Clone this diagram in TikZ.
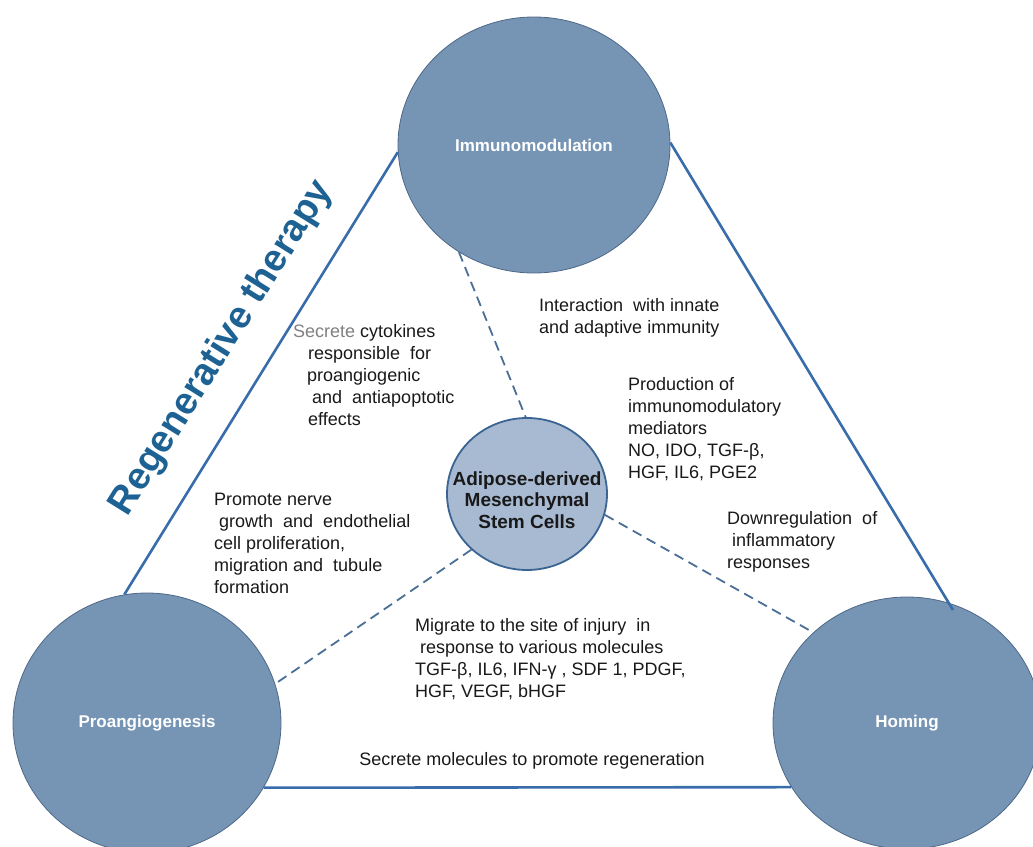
\documentclass[tikz,border=0pt]{standalone}
\usepackage{fontspec}
\setmainfont{Liberation Sans}
\usetikzlibrary{shapes.geometric}
\definecolor{discfill}{RGB}{118,148,180}
\definecolor{discline}{RGB}{78,104,136}
\definecolor{corefill}{RGB}{168,186,210}
\definecolor{coreline}{RGB}{58,100,146}
\definecolor{edgeblue}{RGB}{56,108,170}
\definecolor{linkblue}{RGB}{74,110,150}
\definecolor{regenblue}{RGB}{30,98,148}
\definecolor{txt}{RGB}{25,25,25}

\begin{document}
\begin{tikzpicture}[x=1pt,y=-1pt,
	disc/.style={ellipse,fill=discfill,draw=discline,line width=0.8pt,inner sep=0pt,text=white,font=\fontsize{17}{20}\selectfont\bfseries},
	core/.style={ellipse,fill=corefill,draw=coreline,line width=1.8pt,inner sep=0pt},
	coretext/.style={align=center,text=txt,font=\fontsize{19}{21.5}\selectfont\bfseries},
	side/.style={draw=edgeblue,line width=2.6pt},
	link/.style={draw=linkblue,line width=1.8pt,dash pattern=on 10pt off 6pt},
	note/.style={anchor=base west,align=left,inner sep=0pt,text=txt,font=\fontsize{18}{22}\selectfont}]
					\useasboundingbox (0,0) rectangle (1033,846);
					% circles
					\node[disc,minimum width=272pt,minimum height=256pt] (imm) at (534,145) {Immunomodulation};
					\node[disc,minimum width=268pt,minimum height=260pt] (pro) at (147,723) {Proangiogenesis};
					\node[disc,minimum width=268pt,minimum height=252pt] (hom) at (907,723) {Homing};
					\node[core,minimum width=160pt,minimum height=152pt] (cen) at (527,494) {};
					\node[coretext] (centxt) at (527,500) {Adipose-derived\\Mesenchymal\\Stem Cells};
					% triangle
					\coordinate (rtip) at (953,610);
					\draw[side] (imm.183) -- (pro.100);
					\draw[side] (imm.1) -- (rtip);
					\draw[side] (pro.-29) -- (hom.-151);
					% dashed links
					\draw[link] (imm.235) -- (cen.91);
					\draw[link] (cen.225) -- (pro.17);
					\draw[link] (cen.-15) -- (hom.136);
					% labels (placed at the baseline of their last line)
					\node[rotate=58,text=regenblue,font=\fontsize{38}{44}\selectfont\bfseries] (ther) at (222,348) {Regenerative therapy};
					\node[note] (sec) at (293,425) {{\color{gray}Secrete} cytokines\\\hspace{15pt}responsible~~for\\\hspace{14pt}proangiogenic\\\hspace{19pt}and~~antiapoptotic\\\hspace{15pt}effects};
					\node[note] (inn) at (539,333) {Interaction~~with innate\\and adaptive immunity};
					\node[note] (med) at (628,478) {Production of\\immunomodulatory\\mediators\\NO, IDO, TGF-β,\\HGF, IL6, PGE2};
					\node[note] (ner) at (214,593) {Promote nerve\\\hspace{5pt}growth~~and~~endothelial\\cell proliferation,\\migration and~~tubule\\formation};
					\node[note] (inf) at (727,568) {Downregulation~~of\\\hspace{5pt}inflammatory\\responses};
					\node[note] (mig) at (415,697) {Migrate to the site of injury~~in\\\hspace{5pt}response to various molecules\\TGF-β, IL6, IFN-γ , SDF 1, PDGF,\\HGF, VEGF, bHGF};
					\node[note,anchor=base] (reg) at (532,765) {Secrete molecules to promote regeneration};

				\end{tikzpicture}
\end{document}
